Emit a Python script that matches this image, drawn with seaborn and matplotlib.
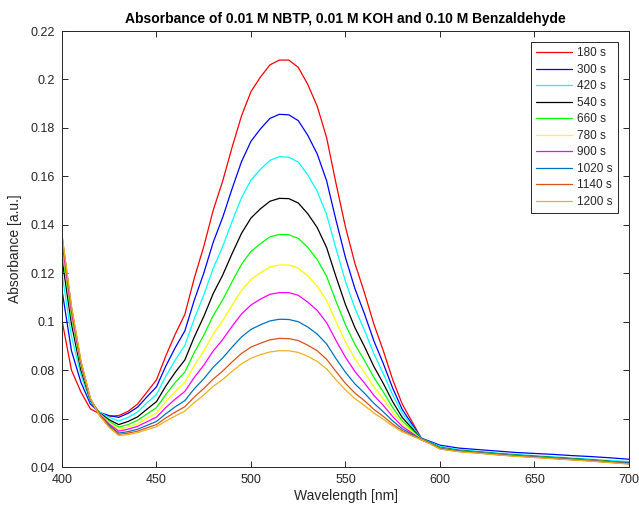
import matplotlib
matplotlib.use("Agg")
import matplotlib.pyplot as plt
import seaborn as sns
import numpy as np
import pandas as pd
from matplotlib.ticker import FuncFormatter
from matplotlib.lines import Line2D

# ---------------- data ----------------
wavelength = [400, 405, 410, 415, 420, 425,
              430, 435, 440, 445, 450, 455, 460, 465, 470, 475, 480, 485, 490, 495,
              500, 505, 510, 515, 520, 525, 530, 535, 540, 545, 550, 555, 560, 565,
              570, 575, 580, 585, 590,
              595, 600, 610, 620, 630, 640, 650, 660, 670, 680, 690, 700]

labels = ["180 s", "300 s", "420 s", "540 s", "660 s", "780 s", "900 s",
          "1020 s", "1140 s", "1200 s"]

abs_180 = [.1005, .0800, .0710, .0640, .0620, .0610,
           .0612, .0630, .0660, .0710, .0760, .0860, .0950, .1030, .1180, .1310,
           .1460, .1580, .1720, .1850, .1950, .2010, .2060, .2080, .2080, .2050,
           .1980, .1890, .1760, .1570, .1390, .1240, .1120, .0990, .0880, .0760,
           .0660, .0590, .0520,
           .0500, .0482, .0470, .0463, .0456, .0450, .0445, .0440, .0435, .0430, .0424, .0418]
abs_300 = [.1130, .0880, .0750, .0660, .0625, .0612,
           .0605, .0622, .0647, .0690, .0731, .0818, .0894, .0962, .1089, .1200,
           .1328, .1430, .1549, .1661, .1745, .1796, .1839, .1856, .1854, .1830,
           .1770, .1693, .1582, .1418, .1264, .1136, .1033, .0921, .0827, .0725,
           .0638, .0579, .0519,
           .0505, .0490, .0478, .0472, .0466, .0460, .0456, .0452, .0447, .0443, .0438, .0432]
abs_420 = [.1200, .0940, .0780, .0670, .0625, .0605,
           .0590, .0605, .0627, .0665, .0700, .0776, .0843, .0902, .1012, .1110,
           .1220, .1310, .1414, .1512, .1585, .1629, .1666, .1681, .1679, .1659,
           .1606, .1539, .1442, .1301, .1166, .1055, .0965, .0868, .0785, .0697,
           .0622, .0571, .0518,
           .0502, .0485, .0472, .0465, .0458, .0452, .0447, .0442, .0437, .0432, .0427, .0422]
abs_540 = [.1260, .0990, .0800, .0675, .0622, .0595,
           .0575, .0588, .0607, .0639, .0670, .0735, .0792, .0842, .0937, .1021,
           .1116, .1192, .1281, .1365, .1428, .1466, .1497, .1509, .1508, .1490,
           .1446, .1389, .1306, .1185, .1070, .0975, .0898, .0815, .0745, .0669,
           .0605, .0561, .0517,
           .0500, .0480, .0468, .0462, .0455, .0449, .0444, .0439, .0434, .0429, .0423, .0416]
abs_660 = [.1300, .1020, .0815, .0678, .0620, .0588,
           .0565, .0575, .0593, .0619, .0645, .0700, .0750, .0792, .0873, .0944,
           .1025, .1090, .1165, .1237, .1290, .1322, .1350, .1360, .1359, .1344,
           .1307, .1257, .1187, .1084, .0987, .0906, .0840, .0770, .0710, .0645,
           .0591, .0554, .0516,
           .0499, .0479, .0467, .0461, .0454, .0448, .0443, .0438, .0433, .0428, .0422, .0418]
abs_780 = [.1320, .1035, .0822, .0680, .0618, .0582,
           .0555, .0565, .0578, .0602, .0624, .0671, .0713, .0749, .0819, .0879,
           .0948, .1004, .1068, .1129, .1174, .1202, .1226, .1234, .1234, .1221,
           .1189, .1147, .1087, .1000, .0916, .0847, .0791, .0731, .0681, .0625,
           .0579, .0547, .0515,
           .0498, .0478, .0466, .0460, .0453, .0447, .0442, .0437, .0432, .0427, .0421, .0415]
abs_900 = [.1330, .1040, .0825, .0680, .0616, .0577,
           .0548, .0556, .0568, .0587, .0606, .0646, .0681, .0712, .0770, .0820,
           .0879, .0926, .0981, .1032, .1069, .1093, .1113, .1120, .1120, .1109,
           .1081, .1047, .0996, .0922, .0853, .0794, .0747, .0696, .0654, .0608,
           .0568, .0541, .0514,
           .0497, .0476, .0465, .0459, .0452, .0446, .0441, .0436, .0431, .0426, .0420, .0413]
abs_1020 = [.1355, .1060, .0835, .0682, .0614, .0572,
            .0540, .0546, .0556, .0572, .0588, .0620, .0649, .0674, .0723, .0764,
            .0812, .0850, .0895, .0937, .0968, .0987, .1003, .1010, .1009, .1000,
            .0978, .0949, .0908, .0847, .0791, .0743, .0705, .0663, .0628, .0590,
            .0558, .0536, .0513,
            .0498, .0477, .0466, .0460, .0453, .0447, .0442, .0437, .0432, .0426, .0420, .0419]
abs_1140 = [.1350, .1058, .0835, .0682, .0612, .0567,
            .0535, .0540, .0548, .0562, .0575, .0603, .0627, .0649, .0689, .0724,
            .0763, .0796, .0834, .0869, .0895, .0911, .0925, .0931, .0930, .0922,
            .0903, .0880, .0845, .0794, .0745, .0705, .0674, .0638, .0609, .0577,
            .0550, .0532, .0513,
            .0496, .0475, .0464, .0458, .0451, .0445, .0440, .0435, .0430, .0425, .0419, .0414]
abs_1200 = [.1360, .1065, .0840, .0684, .0610, .0563,
            .0530, .0534, .0542, .0554, .0566, .0590, .0611, .0631, .0666, .0697,
            .0733, .0761, .0795, .0826, .0849, .0864, .0875, .0880, .0880, .0873,
            .0857, .0836, .0805, .0760, .0718, .0682, .0654, .0623, .0597, .0569,
            .0545, .0529, .0513,
            .0495, .0474, .0463, .0457, .0450, .0444, .0439, .0434, .0429, .0424, .0418, .0412]

series = [abs_180, abs_300, abs_420, abs_540, abs_660, abs_780, abs_900,
          abs_1020, abs_1140, abs_1200]

colors = ["#ff0000", "#0000ff", "#00ffff", "#000000", "#00ff00", "#ffff00",
          "#ff00ff", "#0072bd", "#d95319", "#edb120"]

x_ticks = [400, 450, 500, 550, 600, 650, 700]
y_ticks = [0.04, 0.06, 0.08, 0.10, 0.12, 0.14, 0.16, 0.18, 0.20, 0.22]

# ---------------- plot ----------------
sns.set_style("ticks")
plt.rcParams['font.family'] = ['Liberation Sans', 'DejaVu Sans']

fig = plt.figure(figsize=(6.39, 5.08), dpi=100)
ax = fig.add_axes([62 / 639, 1 - 467 / 508, (629 - 62) / 639, (467 - 31) / 508])

rows = []
for lab, vals in zip(labels, series):
    for w, v in zip(wavelength, vals):
        rows.append({"wl": w, "absorbance": v, "time": lab})
df = pd.DataFrame(rows)

sns.lineplot(data=df, x="wl", y="absorbance", hue="time", hue_order=labels,
             palette=colors, linewidth=0.9, ax=ax, legend=False, sort=False)

ax.set_xlim(400, 700)
ax.set_ylim(0.04, 0.22)
ax.set_xticks(x_ticks)
ax.set_yticks(y_ticks)
ax.yaxis.set_major_formatter(FuncFormatter(lambda v, p: f"{v:g}"))

edge = "0.15"
for s in ax.spines.values():
    s.set_visible(True)
    s.set_color(edge)
    s.set_linewidth(0.7)
ax.tick_params(direction="in", length=4, width=0.7, colors=edge,
               top=True, right=True, labelsize=9, labelcolor="0.15", pad=5)

ax.set_xlabel("Wavelength [nm]", fontsize=10, color="0.15", labelpad=2)
ax.set_ylabel("Absorbance [a.u.]", fontsize=10, color="0.15", labelpad=6)
ax.set_title("Absorbance of 0.01 M NBTP, 0.01 M KOH and 0.10 M Benzaldehyde",
             fontsize=10, fontweight="bold", color="black", pad=6)

handles = [Line2D([0], [0], color=c, linewidth=0.9) for c in colors]
leg = ax.legend(handles, labels, loc="upper right",
                bbox_to_anchor=((618 - 62) / 567, (467 - 42) / 436),
                borderaxespad=0.0,
                fontsize=8.5, frameon=True, fancybox=False, handlelength=3.1,
                handletextpad=0.4, labelspacing=0.38, borderpad=0.45,
                edgecolor="0.15", framealpha=1)
leg.get_frame().set_linewidth(0.7)

fig.savefig("out.png", dpi=100)
